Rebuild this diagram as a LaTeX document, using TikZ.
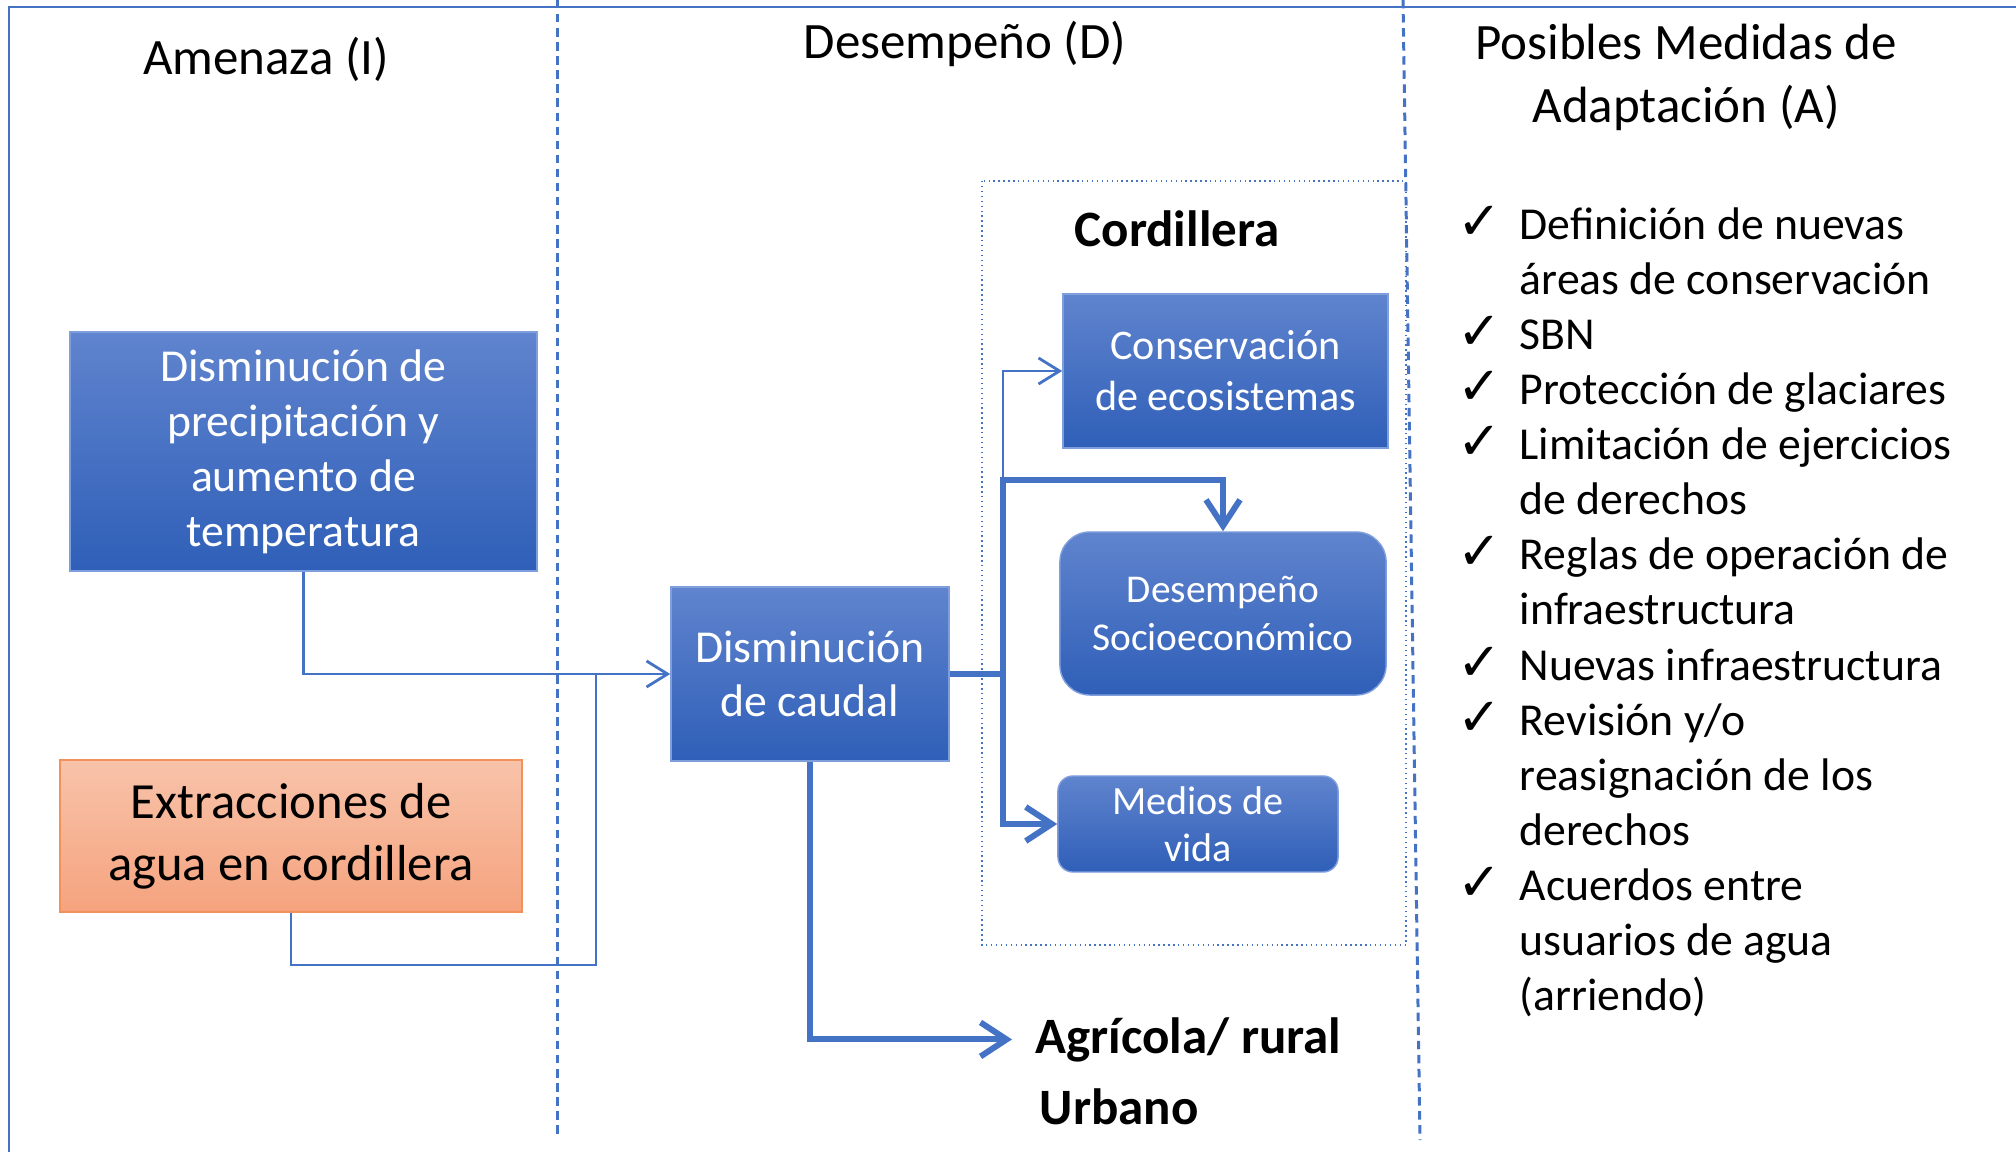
\documentclass[tikz,border=0pt]{standalone}
\usepackage{fontspec}
\setmainfont{Carlito}
\newfontfamily\symfont{DejaVu Sans}
\usetikzlibrary{arrows.meta}

\definecolor{linkblue}{HTML}{4472C4}
\definecolor{boxtop}{HTML}{6084CE}
\definecolor{boxbot}{HTML}{2F5FB8}
\definecolor{boxedge}{HTML}{7F9FDC}
\definecolor{orgtop}{HTML}{F8C3AA}
\definecolor{orgbot}{HTML}{F5A37E}
\definecolor{orgedge}{HTML}{F0925A}

\newcommand{\chk}{{\symfont\fontsize{15pt}{15pt}\selectfont ✓}}

\tikzset{
  bluebox/.style={draw=boxedge, line width=0.4pt, top color=boxtop, bottom color=boxbot,
    text=white, align=center, inner sep=0pt},
  orangebox/.style={draw=orgedge, line width=0.5pt, top color=orgtop, bottom color=orgbot,
    text=black, align=center, inner sep=0pt},
  thinarrow/.style={draw=linkblue, line width=0.8pt, -{Straight Barb[length=0.21cm,width=0.26cm]}},
  thickarrow/.style={draw=linkblue, line width=1.7pt, -{Straight Barb[length=0.26cm,width=0.34cm]}},
  colline/.style={draw=linkblue, line width=0.85pt, dash pattern=on 2.4pt off 1.6pt},
  coltitle/.style={font=\fontsize{14.5pt}{17.9pt}\selectfont, align=center},
}

\begin{document}
\begin{tikzpicture}[x=0.01cm, y=-0.01cm]
  \useasboundingbox (0,0) rectangle (2016,1152);

  % frame and column separators
  \draw[linkblue, line width=0.6pt] (9,1152) -- (9,7) -- (2016,7);
  \draw[colline] (557,0) -- (557,1139);
  \draw[colline] (1403,0) -- (1420,1140);
  \draw[linkblue, line width=0.4pt, densely dotted] (982,181) rectangle (1406,945);

  % column titles
  \node[coltitle, anchor=base] (amenaza) at (266,75) {Amenaza (I)};
  \node[coltitle, anchor=base] (desempeno) at (965,59) {Desempeño (D)};
  \node[coltitle] (medidas) at (1686,77) {Posibles Medidas de\\Adaptación (A)};

  % threats
  \node[bluebox, minimum width=4.67cm, minimum height=2.39cm,
        font=\fontsize{13pt}{15.65pt}\selectfont] (precip) at (303.5,451.5)
        {Disminución de\\precipitación y\\aumento de\\temperatura};
  \node[orangebox, minimum width=4.61cm, minimum height=1.52cm,
        font=\fontsize{14.4pt}{17.5pt}\selectfont] (extrac) at (291,836)
        {Extracciones de\\agua en cordillera};

  % performance
  \node[bluebox, minimum width=2.78cm, minimum height=1.74cm,
        font=\fontsize{13pt}{15.4pt}\selectfont] (caudal) at (810,674)
        {Disminución\\de caudal};
  \node[anchor=base, font=\fontsize{14.5pt}{17.9pt}\selectfont\bfseries] (cordillera) at (1177,247) {Cordillera};
  \node[bluebox, minimum width=3.25cm, minimum height=1.54cm,
        font=\fontsize{12pt}{14.5pt}\selectfont] (conserv) at (1225.5,371)
        {Conservación\\de ecosistemas};
  \node[bluebox, rounded corners=0.3cm, minimum width=3.26cm, minimum height=1.63cm,
        font=\fontsize{11.2pt}{13.9pt}\selectfont] (socio) at (1223,613.5)
        {Desempeño\\Socioeconómico};
  \node[bluebox, rounded corners=0.15cm, minimum width=2.8cm, minimum height=0.96cm,
        font=\fontsize{11.4pt}{13.4pt}\selectfont] (medios) at (1198,824)
        {Medios de\\vida};
  \node[anchor=base west, inner xsep=0.23cm, inner ysep=0pt,
        font=\fontsize{14.5pt}{17.9pt}\selectfont\bfseries] (agri) at (1012,1053) {Agrícola/ rural};
  \node[anchor=base west, inner sep=0pt,
        font=\fontsize{14.5pt}{17.9pt}\selectfont\bfseries] (urbano) at (1039,1124) {Urbano};

  % adaptation measures
  \node[anchor=north west, inner sep=0pt, align=left,
        font=\fontsize{13pt}{15.65pt}\selectfont] (lista) at (1457,200.5)
  {\begin{tabular}{@{}p{0.62cm}@{}l@{}}
    \chk & Definición de nuevas\\
    & áreas de conservación\\
    \chk & SBN\\
    \chk & Protección de glaciares\\
    \chk & Limitación de ejercicios\\
    & de derechos\\
    \chk & Reglas de operación de\\
    & infraestructura\\
    \chk & Nuevas infraestructura\\
    \chk & Revisión y/o\\
    & reasignación de los\\
    & derechos\\
    \chk & Acuerdos entre\\
    & usuarios de agua\\
    & (arriendo)
  \end{tabular}};

  % connectors
  \coordinate (merge) at (596,674);
  \coordinate (split) at (1003,674);
  \draw[thinarrow] (precip.south) |- (caudal.west);
  \draw[linkblue, line width=0.8pt] (extrac.south) -- ++(0,52) -| (merge);
  \draw[thinarrow] (split) |- (conserv.west);
  \draw[thickarrow] (caudal.east) -- (split) |- (medios.west);
  \draw[thickarrow] (split) -- ++(0,-194) -| (socio.north);
  \draw[thickarrow] (caudal.south) |- (agri.west);
\end{tikzpicture}
\end{document}
